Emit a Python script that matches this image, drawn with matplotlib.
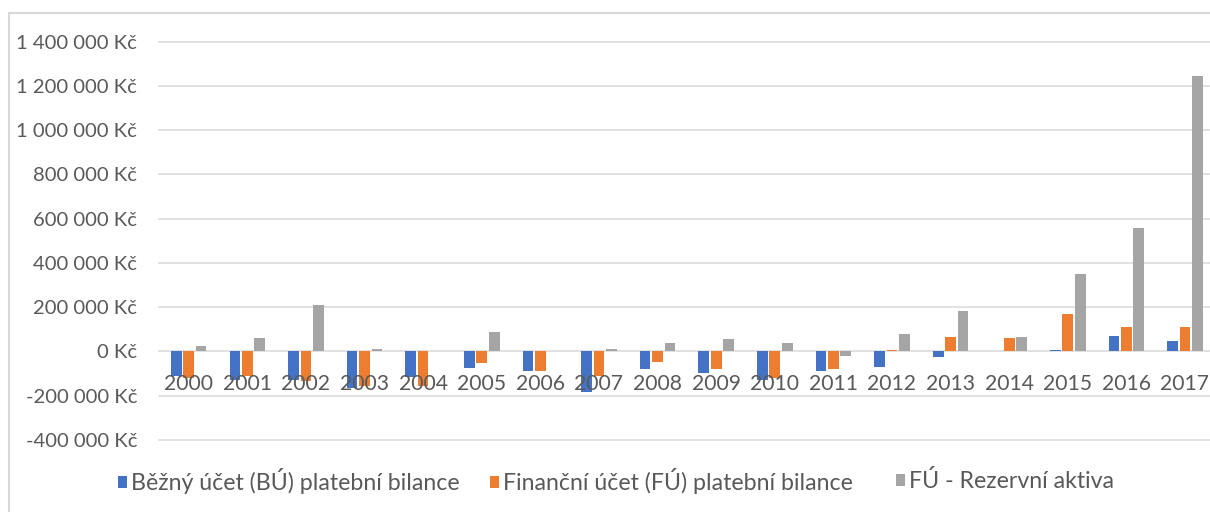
import matplotlib
matplotlib.use("Agg")
import matplotlib.pyplot as plt
import numpy as np
from matplotlib.patches import Patch
from matplotlib.lines import Line2D

years = ["2000", "2001", "2002", "2003", "2004", "2005", "2006", "2007", "2008",
         "2009", "2010", "2011", "2012", "2013", "2014", "2015", "2016", "2017"]
bezny_ucet = [-109000, -128000, -131000, -165000, -116000, -73000, -89000, -184000, -79000,
              -97000, -131000, -89000, -68000, -27000, 0, 8000, 71000, 49000]
financni_ucet = [-119000, -112000, -134000, -154000, -154000, -54000, -89000, -112000, -48000,
                 -79000, -119000, -79000, 8000, 67000, 61000, 169000, 112000, 112000]
rezervni_aktiva = [26000, 60000, 212000, 9000, 0, 89000, 0, 9000, 39000,
                   56000, 39000, -20000, 79000, 183000, 67000, 351000, 559000, 1247000]
series_names = ["Běžný účet (BÚ) platební bilance",
                "Finanční účet (FÚ) platební bilance",
                "FÚ - Rezervní aktiva"]
colors = ["#4472C4", "#ED7D31", "#A5A5A5"]
y_ticks = [-400000, -200000, 0, 200000, 400000, 600000, 800000, 1000000, 1200000, 1400000]

plt.rcParams['font.family'] = ['Lato', 'DejaVu Sans']
text_color = "#595959"
grid_color = "#D9D9D9"

W, H = 1210, 512
fig = plt.figure(figsize=(W / 100, H / 100), dpi=100)
ax = fig.add_axes([159.4 / W, 1 - 440 / H, 1054.9 / W, (440 - 41.7) / H])

x = np.arange(len(years))
bw = 0.183
off = 0.212
bars = []
for i, (vals, c) in enumerate(zip([bezny_ucet, financni_ucet, rezervni_aktiva], colors)):
    bars.append(ax.bar(x + (i - 1) * off, vals, width=bw, color=c, zorder=1))

ax.set_xlim(-0.5, len(years) - 0.5)
ax.set_ylim(-400000, 1400000)

for yt in y_ticks:
    ax.axhline(yt, color=grid_color, lw=1.1, zorder=0, clip_on=False)

for s in ax.spines.values():
    s.set_visible(False)
ax.spines['bottom'].set_position(('data', 0))

ax.set_yticks(y_ticks)
ax.set_yticklabels([f"{v:,}".replace(",", " ") + " Kč" for v in y_ticks])
ax.set_xticks(x)
ax.set_xticklabels(years)
ax.tick_params(axis='y', length=0, pad=16, labelsize=14.6, labelcolor=text_color)
ax.tick_params(axis='x', length=0, pad=16, labelsize=15.2, labelcolor=text_color)

# chart border (left and top)
fig.add_artist(Line2D([8.5 / W, 8.5 / W], [0, 1 - 13 / H], color=grid_color, lw=1.5,
                      transform=fig.transFigure))
fig.add_artist(Line2D([8.5 / W, 1], [1 - 13 / H, 1 - 13 / H], color=grid_color, lw=1.5,
                      transform=fig.transFigure))

# legend: one entry per legend, placed like the original
legend_x = [118, 490, 896]
for name, c, lx in zip(series_names, colors, legend_x):
    leg = fig.legend([Patch(facecolor=c, edgecolor='none')], [name], loc='center left',
                     bbox_to_anchor=(lx / W, 1 - 481 / H), frameon=False,
                     fontsize=16.7, handlelength=0.37, handleheight=0.44,
                     handletextpad=0.2, borderpad=0, borderaxespad=0)
    for t in leg.get_texts():
        t.set_color(text_color)

fig.savefig("out.png", dpi=100)
